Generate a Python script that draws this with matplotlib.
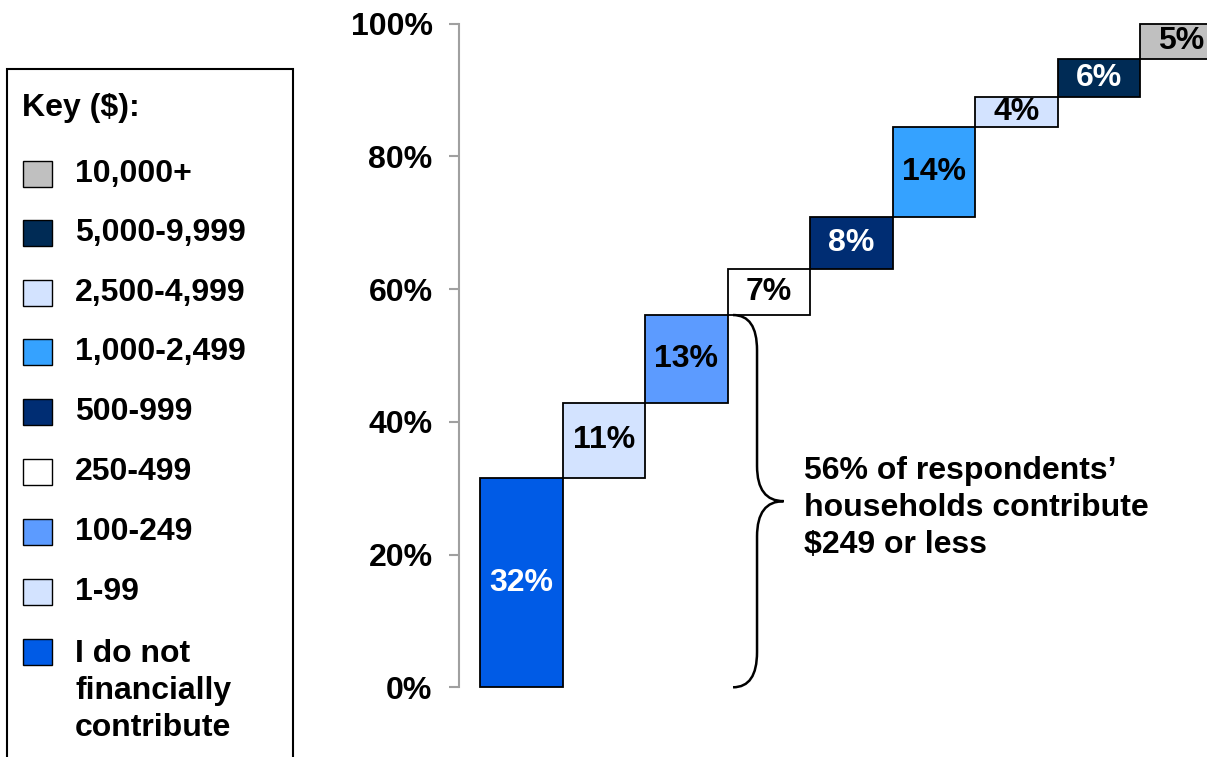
import matplotlib
matplotlib.use("Agg")
import matplotlib.pyplot as plt
import numpy as np
from matplotlib.path import Path
from matplotlib.patches import PathPatch, Rectangle

plt.rcParams['font.family'] = ['Liberation Sans', 'DejaVu Sans']
plt.rcParams['font.weight'] = 'bold'

# ---- data ----
categories = ["I do not financially contribute", "1-99", "100-249", "250-499", "500-999",
              "1,000-2,499", "2,500-4,999", "5,000-9,999", "10,000+"]
values = [31.5, 11.4, 13.2, 7.0, 7.7, 13.6, 4.5, 5.8, 5.3]
value_labels = ["32%", "11%", "13%", "7%", "8%", "14%", "4%", "6%", "5%"]
colors = ["#005BE6", "#D3E3FF", "#5C9BFF", "#FFFFFF", "#002D73",
          "#35A2FF", "#D3E3FF", "#002B55", "#C0C0C0"]
label_colors = ["white", "black", "black", "black", "white",
                "black", "black", "white", "black"]
legend_labels = ["10,000+", "5,000-9,999", "2,500-4,999", "1,000-2,499", "500-999",
                 "250-499", "100-249", "1-99", "I do not\nfinancially\ncontribute"]
legend_colors = ["#C0C0C0", "#002B55", "#D3E3FF", "#35A2FF", "#002D73",
                 "#FFFFFF", "#5C9BFF", "#D3E3FF", "#005BE6"]
yticks = [0, 20, 40, 60, 80, 100]
ytick_labels = ["0%", "20%", "40%", "60%", "80%", "100%"]
annotation = "56% of respondents\u2019\nhouseholds contribute\n$249 or less"

FS = 23
W, H = 1207, 757
fig = plt.figure(figsize=(W / 100, H / 100), dpi=100)

# axes placement (pixels)
ax_left, ax_right, ax_top, ax_bot = 459, 1207, 23.7, 687.3
ax = fig.add_axes([ax_left / W, (H - ax_bot) / H, (ax_right - ax_left) / W, (ax_bot - ax_top) / H])

x = np.arange(len(values))
bottoms = np.concatenate([[0], np.cumsum(values)[:-1]])
ax.bar(x, values, bottom=bottoms, width=1.0, color=colors,
       edgecolor="black", linewidth=1.3, clip_on=False)
for xi, b, v, lab, lc in zip(x, bottoms, values, value_labels, label_colors):
    ax.text(xi, b + v / 2, lab, ha="center", va="center", fontsize=FS,
            fontweight="bold", color=lc)

px_per_bar = 82.5
x_left_data = -0.5 - (480 - ax_left) / px_per_bar
ax.set_xlim(x_left_data, x_left_data + (ax_right - ax_left) / px_per_bar)
ax.set_ylim(0, 100)

for s in ["top", "right", "bottom"]:
    ax.spines[s].set_visible(False)
ax.spines["left"].set_color("#A0A0A0")
ax.spines["left"].set_linewidth(1.5)
ax.set_xticks([])
ax.set_yticks(yticks)
ax.set_yticklabels(ytick_labels, fontsize=FS, fontweight="bold")
ax.tick_params(axis="y", length=7, width=1.5, color="#A0A0A0", pad=12)

# brace spanning first three segments
cum = np.cumsum(values)
ytop = cum[2]
ybot = 0.0
ymid = (ytop + ybot) / 2
x0, x1, x2 = 2.567, 2.858, 3.18
r = 5.3
verts = [(x0, ytop), (x1, ytop), (x1, ytop - r),
         (x1, ymid + r), (x1, ymid), (x2, ymid),
         (x1, ymid), (x1, ymid - r),
         (x1, ybot + r), (x1, ybot), (x0, ybot)]
codes = [Path.MOVETO, Path.CURVE3, Path.CURVE3,
         Path.LINETO, Path.CURVE3, Path.CURVE3,
         Path.CURVE3, Path.CURVE3,
         Path.LINETO, Path.CURVE3, Path.CURVE3]
ax.add_patch(PathPatch(Path(verts, codes), facecolor="none", edgecolor="black",
                       linewidth=1.8, clip_on=False))

fig.text(804 / W, 1 - 508 / H, annotation, ha="left", va="center", fontsize=FS,
         fontweight="bold", linespacing=1.3)

# legend box
fig.patches.append(Rectangle((7 / W, -0.05), (293 - 7) / W, 1 - 69 / H + 0.05,
                             transform=fig.transFigure, facecolor="white",
                             edgecolor="black", linewidth=1.5, zorder=0))
fig.text(22 / W, 1 - 108 / H, "Key ($):", ha="left", va="center", fontsize=FS,
         fontweight="bold")
row_y = [174, 233, 293, 352, 412, 472, 532, 592, 652]
text_y = [174, 233, 293, 352, 412, 472, 532, 592, 691]
for yy, ty, lab, c in zip(row_y, text_y, legend_labels, legend_colors):
    fig.patches.append(Rectangle((23 / W, 1 - (yy + 13) / H), 29 / W, 26 / H,
                                 transform=fig.transFigure, facecolor=c,
                                 edgecolor="black", linewidth=1.0))
    fig.text(75 / W, 1 - ty / H, lab, ha="left", va="center", fontsize=FS,
             fontweight="bold", linespacing=1.32)

fig.savefig("out.png", dpi=100)
